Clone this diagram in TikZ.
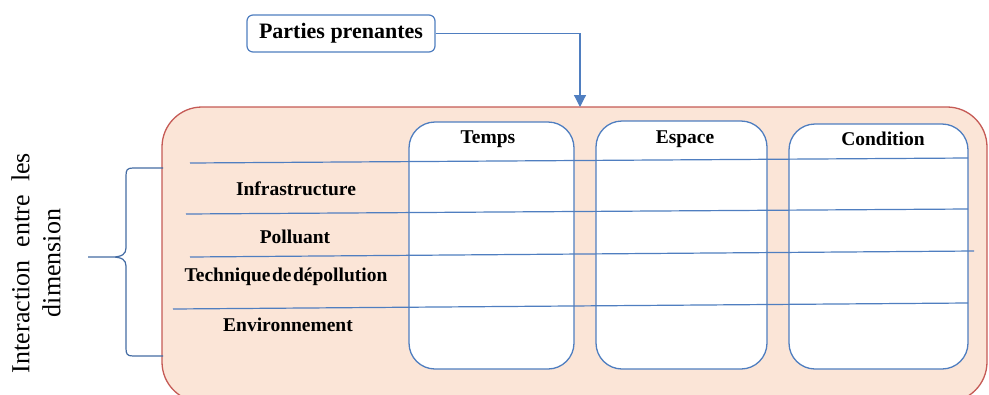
\documentclass[tikz,border=0pt]{standalone}
\usepackage{fontspec}
\setmainfont{Liberation Serif}
\usetikzlibrary{arrows.meta}
\definecolor{lineblue}{HTML}{4F7EC0}
\definecolor{peach}{HTML}{FBE5D7}
\definecolor{boxred}{HTML}{C55A55}
\tikzset{
  colbox/.style={draw=lineblue, line width=1.3pt, fill=white, rounded corners=26pt},
  rowline/.style={draw=lineblue, line width=1.2pt},
  lbl/.style={font=\bfseries\fontsize{19.5}{21}\selectfont, inner sep=0pt},
  hdr/.style={font=\bfseries\fontsize{19.5}{21}\selectfont, inner sep=0pt},
}
\begin{document}
\begin{tikzpicture}[x=1pt,y=-1pt]
\useasboundingbox (0,0) rectangle (989,394);
\clip (0,0) rectangle (989,394);
% main box
\draw[draw=boxred, line width=1.3pt, fill=peach, rounded corners=40pt] (162,107) rectangle (987,402);
\coordinate (mainTop) at (580,107);
% columns
\draw[colbox] (409,122) rectangle (574,369);
\draw[colbox] (596,121) rectangle (767,369);
\draw[colbox] (789,124) rectangle (968,369);
% headers
\node[hdr] (temps) at (488,139) {Temps};
\node[hdr] (espace) at (685,139) {Espace};
\node[hdr] (cond) at (883,139) {Condition};
% row lines
\coordinate (l1a) at (190,163); \coordinate (l1b) at (968,158);
\coordinate (l2a) at (186,214); \coordinate (l2b) at (968,209);
\coordinate (l3a) at (190,257); \coordinate (l3b) at (974,251);
\coordinate (l4a) at (173,309); \coordinate (l4b) at (968,303);
\draw[rowline] (l1a) -- (l1b);
\draw[rowline] (l2a) -- (l2b);
\draw[rowline] (l3a) -- (l3b);
\draw[rowline] (l4a) -- (l4b);
% row labels
\node[lbl] (infra) at (296,189) {Infrastructure};
\node[lbl] (poll) at (295,237) {Polluant};
\node[lbl] (tech) at (286,277) {Technique\hspace{1.5pt}de\hspace{1.5pt}dépollution};
\node[lbl] (env) at (288,325) {Environnement};
% parties prenantes
\node[draw=lineblue, line width=1.2pt, fill=white, rounded corners=6pt,
      minimum width=188pt, minimum height=37pt, inner sep=0pt,
      font=\bfseries\fontsize{22}{24}\selectfont] (pp) at (341,33.5) {Parties prenantes};
\draw[draw=lineblue, line width=1.2pt, -{Triangle[length=12pt,width=12pt]}]
  (pp.east) -| (mainTop);
% brace
\draw[draw=lineblue!85!black, line width=1.2pt]
  (163,168) -- (133,168) .. controls (127,168) and (126,170) .. (126,176)
  -- (126,248) .. controls (126,254) and (122,257) .. (112,257) -- (88,257)
  (112,257) .. controls (122,257) and (126,260) .. (126,266)
  -- (126,348) .. controls (126,354) and (127,356) .. (133,356) -- (163,356);
% rotated text
\node[rotate=90, inner sep=0pt, font=\fontsize{26}{28}\selectfont, text width=220pt, align=center] (dim) at (36,263)
  {Interaction\hfill entre\hfill les\\[3pt]dimension};
\end{tikzpicture}
\end{document}
